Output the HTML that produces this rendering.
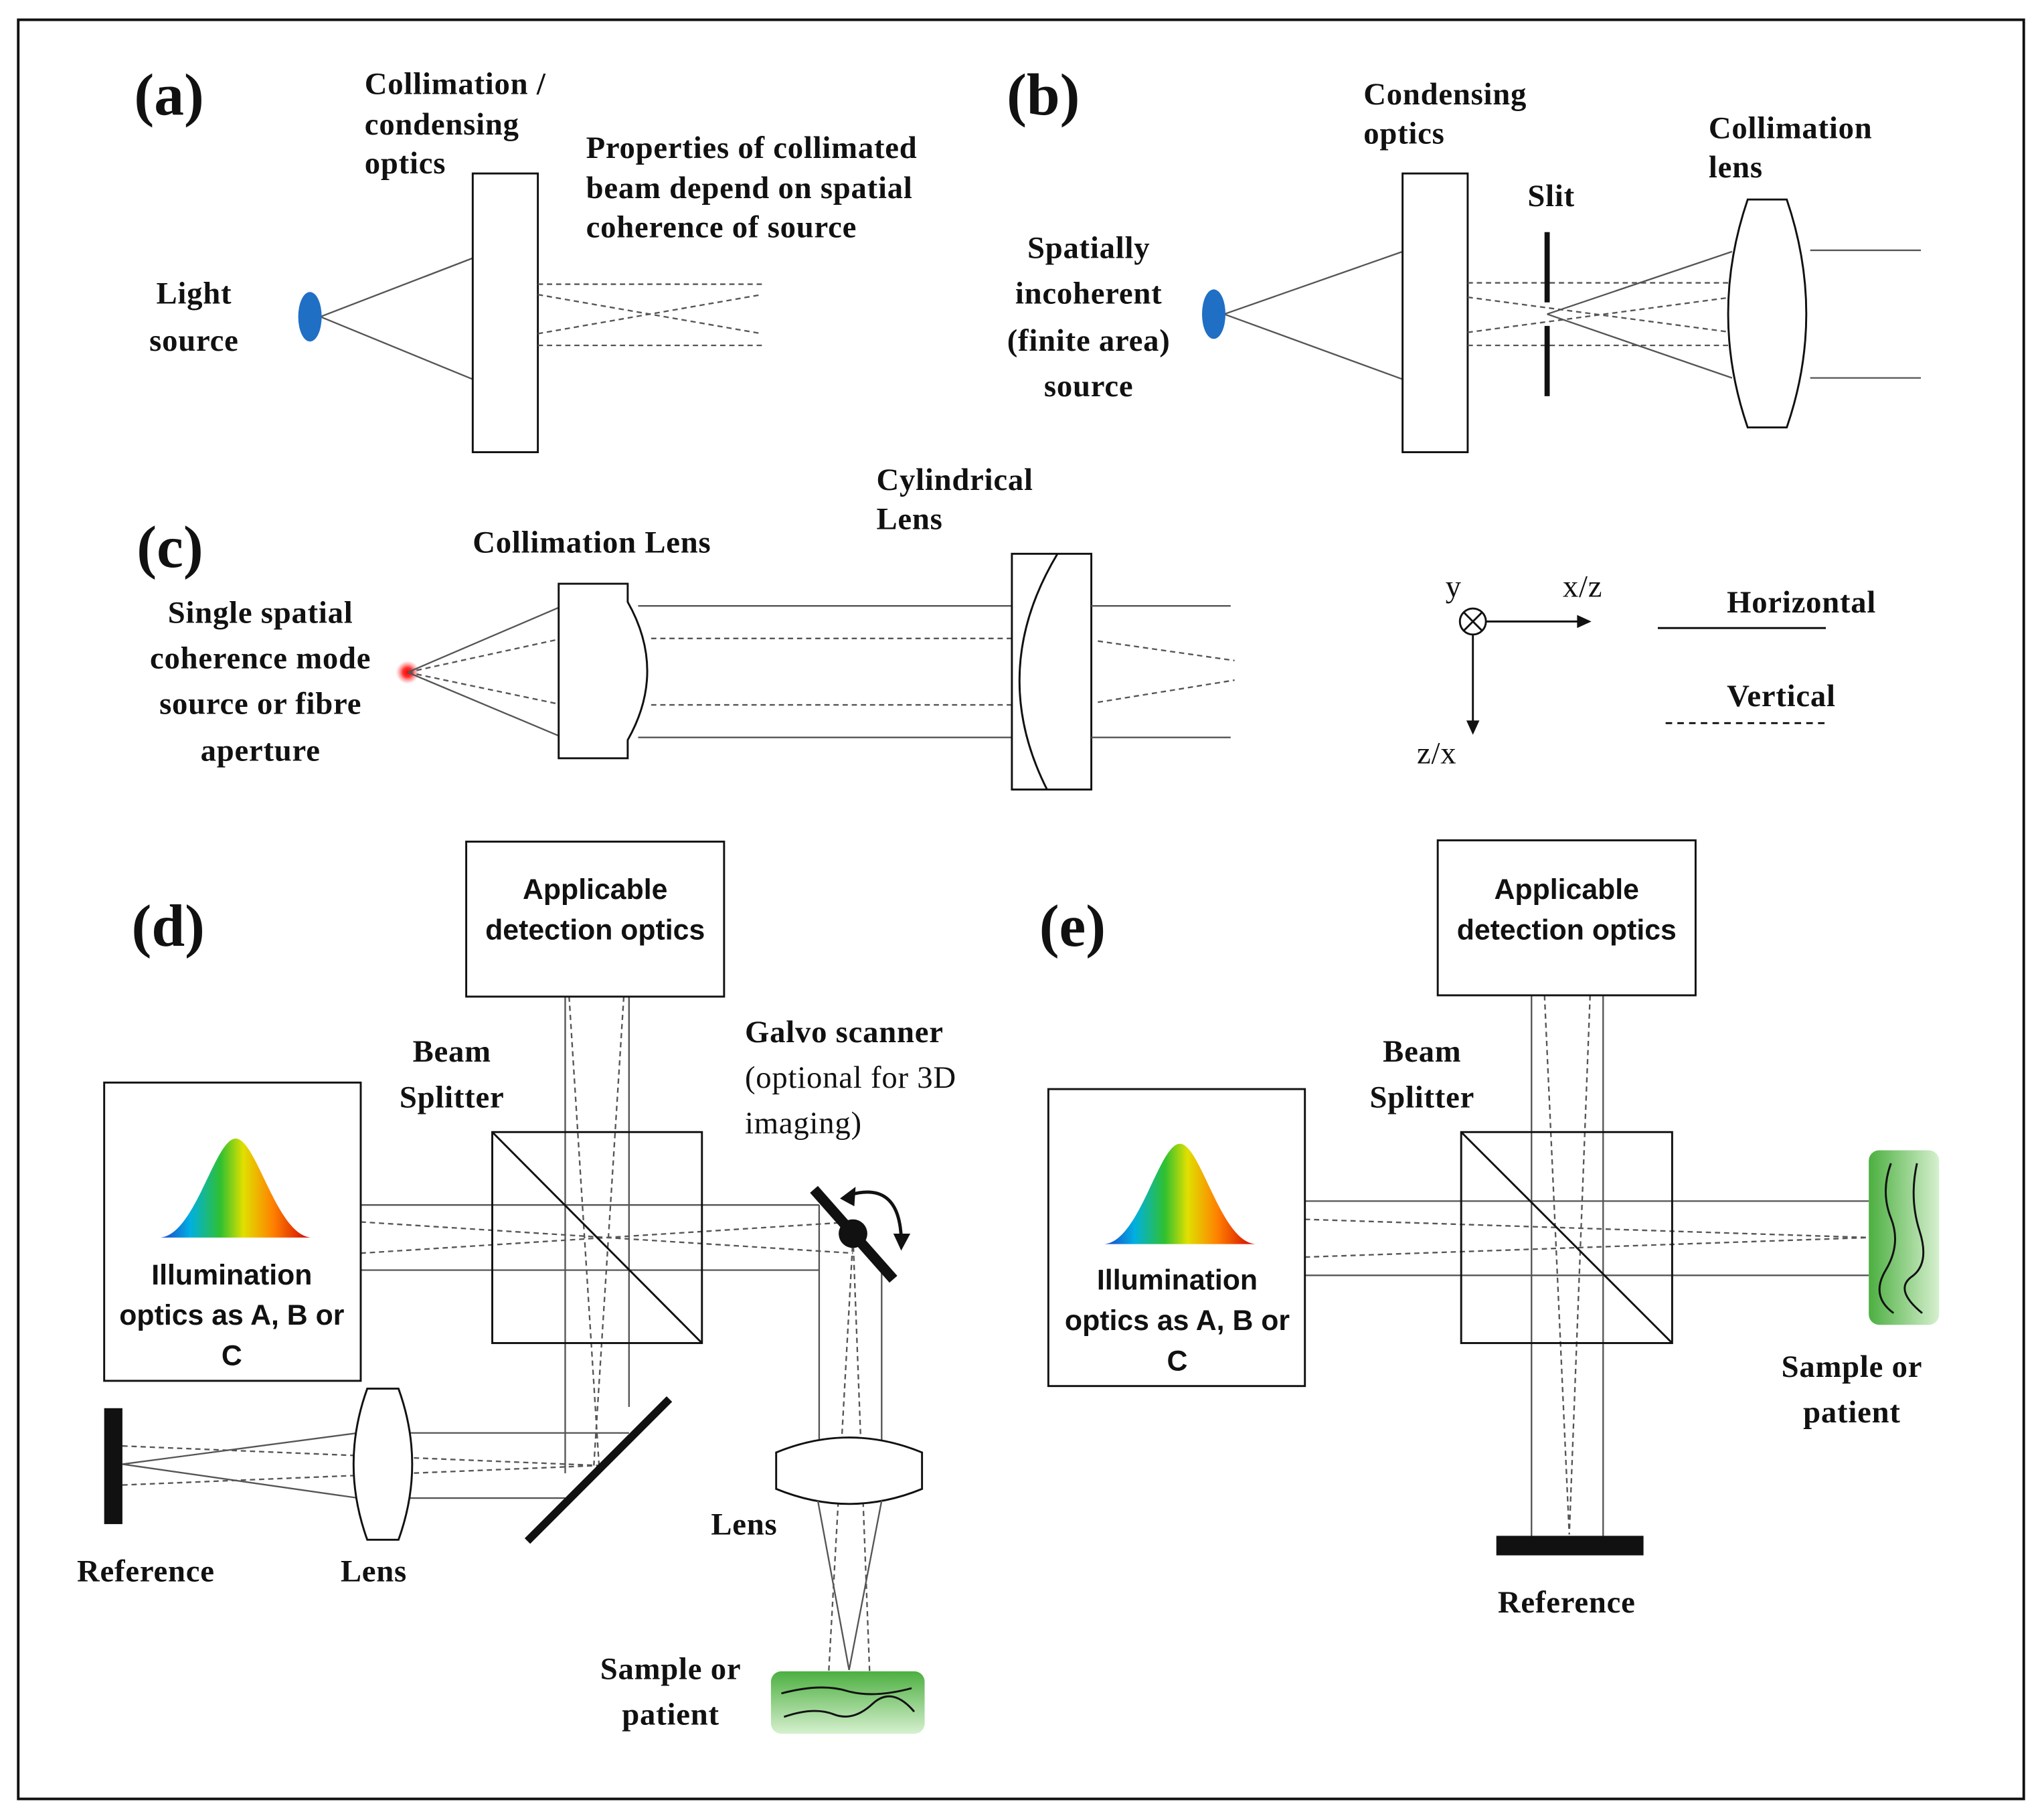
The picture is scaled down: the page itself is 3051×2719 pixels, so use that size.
<!DOCTYPE html>
<html><head><meta charset="utf-8"><style>
html,body{margin:0;padding:0;background:#fff}
svg{display:block}
.t{font-family:"Liberation Serif",serif;font-weight:bold;font-size:24px;letter-spacing:0.4px;fill:#111}
.n{font-family:"Liberation Serif",serif;font-size:24px;letter-spacing:0.4px;fill:#111}
.L{font-family:"Liberation Serif",serif;font-weight:bold;font-size:46px;fill:#111}
.s{font-family:"Liberation Sans",sans-serif;font-weight:bold;font-size:22px;fill:#111}
.l{stroke:#555;stroke-width:1.2;fill:none}
.d{stroke:#555;stroke-width:1.2;fill:none;stroke-dasharray:4 3}
.b{stroke:#111;stroke-width:1.5;fill:#fff}
</style></head><body>
<svg width="3051" height="2719" viewBox="0 0 1568 1397" xmlns="http://www.w3.org/2000/svg">
<defs>
<linearGradient id="rb" x1="0" x2="1" y1="0" y2="0">
<stop offset="0" stop-color="#2040d0"/><stop offset="0.2" stop-color="#00b0e0"/><stop offset="0.4" stop-color="#30c030"/><stop offset="0.55" stop-color="#e0e000"/><stop offset="0.75" stop-color="#ff8000"/><stop offset="1" stop-color="#d00000"/></linearGradient>
<linearGradient id="gv" x1="0" x2="0" y1="0" y2="1"><stop offset="0" stop-color="#4caf40"/><stop offset="1" stop-color="#d6f0cf"/></linearGradient>
<linearGradient id="gh" x1="0" x2="1" y1="0" y2="0"><stop offset="0" stop-color="#4caf40"/><stop offset="1" stop-color="#d6f0cf"/></linearGradient>
<radialGradient id="red"><stop offset="0" stop-color="#ff0000"/><stop offset="0.4" stop-color="#ff3030"/><stop offset="1" stop-color="#ff8080" stop-opacity="0"/></radialGradient>
</defs>
<rect x="14" y="15" width="1540" height="1366" fill="none" stroke="#111" stroke-width="2"/>

<!-- (a) -->
<text class="L" x="103" y="88">(a)</text>
<text class="t" x="280" y="72">Collimation /</text>
<text class="t" x="280" y="103">condensing</text>
<text class="t" x="280" y="133">optics</text>
<text class="t" x="450" y="121">Properties of collimated</text>
<text class="t" x="450" y="152">beam depend on spatial</text>
<text class="t" x="450" y="182">coherence of source</text>
<text class="t" x="149" y="233" text-anchor="middle">Light</text>
<text class="t" x="149" y="269" text-anchor="middle">source</text>
<line class="l" x1="246" y1="243" x2="363" y2="198"/><line class="l" x1="246" y1="243" x2="363" y2="291"/>
<ellipse cx="238" cy="243" rx="9" ry="19" fill="#1f6fc5"/>
<rect class="b" x="363" y="133" width="50" height="214"/>
<path class="d" d="M413 218H585M413 265H585M413 226L585 256M413 256L585 226"/>

<!-- (b) -->
<text class="L" x="773" y="88">(b)</text>
<text class="t" x="1047" y="80">Condensing</text>
<text class="t" x="1047" y="110">optics</text>
<text class="t" x="1173" y="158">Slit</text>
<text class="t" x="1312" y="106">Collimation</text>
<text class="t" x="1312" y="136">lens</text>
<text class="t" x="836" y="198" text-anchor="middle">Spatially</text>
<text class="t" x="836" y="233" text-anchor="middle">incoherent</text>
<text class="t" x="836" y="269" text-anchor="middle">(finite area)</text>
<text class="t" x="836" y="304" text-anchor="middle">source</text>
<line class="l" x1="940" y1="241" x2="1077" y2="193"/><line class="l" x1="940" y1="241" x2="1077" y2="291"/>
<ellipse cx="932" cy="241" rx="9" ry="19" fill="#1f6fc5"/>
<rect class="b" x="1077" y="133" width="50" height="214"/>
<path class="d" d="M1127 217H1330M1127 265H1330M1127 228L1330 255M1127 255L1330 228"/>
<line class="l" x1="1188" y1="241" x2="1330" y2="193"/><line class="l" x1="1188" y1="241" x2="1330" y2="290"/>
<path d="M1188 178V232M1188 250V304" stroke="#111" stroke-width="4"/>
<path class="b" d="M1342 153L1372 153Q1402 241 1372 328L1342 328Q1312 241 1342 153Z"/>
<path class="l" d="M1390 192H1475M1390 290H1475"/>

<!-- (c) -->
<text class="L" x="105" y="435">(c)</text>
<text class="t" x="363" y="424">Collimation Lens</text>
<text class="t" x="673" y="376">Cylindrical</text>
<text class="t" x="673" y="406">Lens</text>
<text class="t" x="200" y="478" text-anchor="middle">Single spatial</text>
<text class="t" x="200" y="513" text-anchor="middle">coherence mode</text>
<text class="t" x="200" y="548" text-anchor="middle">source or fibre</text>
<text class="t" x="200" y="584" text-anchor="middle">aperture</text>
<circle cx="313" cy="516" r="9" fill="url(#red)"/>
<line class="l" x1="313" y1="516" x2="432" y2="465"/><line class="l" x1="313" y1="516" x2="432" y2="566"/>
<line class="d" x1="313" y1="516" x2="432" y2="490"/><line class="d" x1="313" y1="516" x2="432" y2="541"/>
<path class="b" d="M429 448L482 448L482 462Q512 515 482 568L482 582L429 582Z"/>
<path class="l" d="M490 465H777M490 566H777"/>
<path class="d" d="M500 490H777M500 541H777"/>
<rect class="b" x="777" y="425" width="61" height="181"/>
<path fill="none" stroke="#111" stroke-width="1.5" d="M812 425Q758 515 804 606"/>
<path class="l" d="M838 465H945M838 566H945"/>
<path class="d" d="M843 492L948 507M843 539L948 522"/>
<text class="n" x="1110" y="458">y</text>
<text class="n" x="1200" y="458">x/z</text>
<text class="n" x="1088" y="586">z/x</text>
<circle cx="1131" cy="477" r="10" fill="#fff" stroke="#111" stroke-width="1.5"/>
<path d="M1124 470L1138 484M1138 470L1124 484" stroke="#111" stroke-width="1.5"/>
<path d="M1141 477H1213M1131 487V555" stroke="#111" stroke-width="1.5"/>
<path d="M1222 477L1211 472L1211 482Z M1131 564L1126 553L1136 553Z" fill="#111"/>
<text class="t" x="1326" y="470">Horizontal</text>
<line x1="1273" y1="482" x2="1402" y2="482" stroke="#111" stroke-width="1.5"/>
<text class="t" x="1326" y="542">Vertical</text>
<line x1="1279" y1="555" x2="1402" y2="555" stroke="#111" stroke-width="1.5" stroke-dasharray="5 4"/>

<!-- (d) -->
<text class="L" x="101" y="726">(d)</text>
<path class="l" d="M277 925H629M277 975H629M434 765V1131M483 765V1080"/>
<path class="d" d="M277 938L655 962M277 962L655 938M437 765L460 1125M479 765L456 1125"/>
<rect class="b" x="358" y="646" width="198" height="119"/>
<text class="s" x="457" y="690" text-anchor="middle">Applicable</text>
<text class="s" x="457" y="721" text-anchor="middle">detection optics</text>
<rect class="b" x="80" y="831" width="197" height="229"/>
<path d="M123 950C150 948 165 874 181 874C197 874 212 948 239 950Z" fill="url(#rb)"/>
<text class="s" x="178" y="986" text-anchor="middle">Illumination</text>
<text class="s" x="178" y="1017" text-anchor="middle">optics as A, B or</text>
<text class="s" x="178" y="1048" text-anchor="middle">C</text>
<rect x="378" y="869" width="161" height="162" fill="none" stroke="#111" stroke-width="1.5"/>
<line x1="378" y1="869" x2="539" y2="1031" stroke="#111" stroke-width="1.5"/>
<text class="t" x="347" y="815" text-anchor="middle">Beam</text>
<text class="t" x="347" y="850" text-anchor="middle">Splitter</text>
<text class="t" x="572" y="800">Galvo scanner</text>
<text class="n" x="572" y="835">(optional for 3D</text>
<text class="n" x="572" y="870">imaging)</text>
<path class="l" d="M629 925V1110M677 975V1110"/>
<path class="d" d="M655 950L636 1290M655 950L668 1290"/>
<line x1="625" y1="913" x2="686" y2="982" stroke="#111" stroke-width="8"/>
<circle cx="655" cy="947" r="11" fill="#111"/>
<path d="M650 918Q690 905 692 950" fill="none" stroke="#111" stroke-width="2.5"/>
<path d="M645 920L657 911L656 926Z M692 960L686 947L699 947Z" fill="#111"/>
<path class="b" d="M596 1115Q652 1092 708 1115L708 1143Q652 1166 596 1143Z"/>
<path class="l" d="M628 1152L652 1282M677 1152L652 1282"/>
<text class="t" x="546" y="1178">Lens</text>
<rect x="592" y="1283" width="118" height="48" rx="8" fill="url(#gv)"/>
<path d="M600 1300Q630 1292 650 1298T700 1296M602 1318Q625 1310 640 1316T670 1308T702 1314" fill="none" stroke="#111" stroke-width="1.5"/>
<text class="t" x="515" y="1289" text-anchor="middle">Sample or</text>
<text class="t" x="515" y="1324" text-anchor="middle">patient</text>
<path class="l" d="M94 1124L275 1100M94 1124L275 1150M310 1100H483M310 1150H434"/>
<path class="d" d="M94 1110L460 1125M94 1140L460 1125"/>
<line x1="405" y1="1183" x2="514" y2="1074" stroke="#111" stroke-width="6"/>
<rect x="80" y="1081" width="14" height="89" fill="#111"/>
<path class="b" d="M282 1066L306 1066Q327 1124 306 1182L282 1182Q261 1124 282 1066Z"/>
<text class="t" x="112" y="1214" text-anchor="middle">Reference</text>
<text class="t" x="287" y="1214" text-anchor="middle">Lens</text>

<!-- (e) -->
<text class="L" x="798" y="726">(e)</text>
<path class="l" d="M1002 922H1435M1002 979H1435M1176 764V1180M1231 764V1180"/>
<path class="d" d="M1002 936L1435 950M1002 965L1435 950M1186 764L1205 1178M1221 764L1205 1178"/>
<rect class="b" x="1104" y="645" width="198" height="119"/>
<text class="s" x="1203" y="690" text-anchor="middle">Applicable</text>
<text class="s" x="1203" y="721" text-anchor="middle">detection optics</text>
<rect class="b" x="805" y="836" width="197" height="228"/>
<path d="M848 955C875 953 890 878 906 878C922 878 937 953 964 955Z" fill="url(#rb)"/>
<text class="s" x="904" y="990" text-anchor="middle">Illumination</text>
<text class="s" x="904" y="1021" text-anchor="middle">optics as A, B or</text>
<text class="s" x="904" y="1052" text-anchor="middle">C</text>
<rect x="1122" y="869" width="162" height="162" fill="none" stroke="#111" stroke-width="1.5"/>
<line x1="1122" y1="869" x2="1284" y2="1031" stroke="#111" stroke-width="1.5"/>
<text class="t" x="1092" y="815" text-anchor="middle">Beam</text>
<text class="t" x="1092" y="850" text-anchor="middle">Splitter</text>
<rect x="1149" y="1179" width="113" height="15" fill="#111"/>
<text class="t" x="1203" y="1238" text-anchor="middle">Reference</text>
<rect x="1435" y="883" width="54" height="134" rx="8" fill="url(#gh)"/>
<path d="M1452 893Q1444 915 1452 935T1448 975T1454 1008M1472 893Q1466 920 1474 945T1468 980T1476 1008" fill="none" stroke="#111" stroke-width="1.5"/>
<text class="t" x="1422" y="1057" text-anchor="middle">Sample or</text>
<text class="t" x="1422" y="1092" text-anchor="middle">patient</text>
</svg>
</body></html>
